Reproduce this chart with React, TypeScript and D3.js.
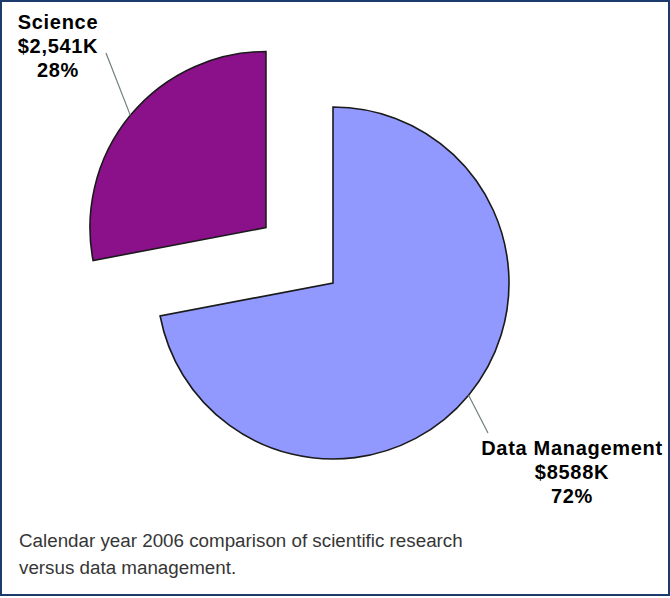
import React from "react";
import * as d3 from "d3";

// Funding split for calendar year 2006
const categories = ["Data Management", "Science"];
const amounts = ["$8588K", "$2,541K"];
const percents = [72, 28];
const colors = ["#9199FF", "#8B118A"];

const W = 670;
const H = 598;
const cx = 333;
const cy = 283;
const radius = 176;
const explode = [0, 87];

// Where each label block sits and where its leader line ends
const labelAnchors = [
  { x: 572, y: 455, lineEnd: [488, 433] },
  { x: 58, y: 29, lineEnd: [106, 53] },
];

export default function App() {
  const pie = d3
    .pie<number>()
    .sort(null)
    .value((d) => d)
    .startAngle(0)
    .endAngle(2 * Math.PI);
  const arcs = pie(percents);
  const arcGen = d3.arc<d3.PieArcDatum<number>>().innerRadius(0).outerRadius(radius);

  return (
    <svg width={W} height={H} style={{ position: "absolute", left: 0, top: 0 }}>
      <rect x={0} y={0} width={W} height={H} fill="#fff" />
      <rect x={1} y={1} width={W - 2} height={H - 4} fill="none" stroke="#1d3a6c" strokeWidth={2} />
      {arcs.map((a, i) => {
        const mid = (a.startAngle + a.endAngle) / 2;
        const dx = Math.sin(mid) * explode[i];
        const dy = -Math.cos(mid) * explode[i];
        const ox = cx + dx;
        const oy = cy + dy;
        const sx = ox + Math.sin(mid) * radius;
        const sy = oy - Math.cos(mid) * radius;
        const la = labelAnchors[i];
        return (
          <g key={categories[i]}>
            <path
              d={arcGen(a) || ""}
              transform={`translate(${ox},${oy})`}
              fill={colors[i]}
              stroke="#1a1a1a"
              strokeWidth={1.6}
              strokeLinejoin="miter"
            />
            <line x1={sx} y1={sy} x2={la.lineEnd[0]} y2={la.lineEnd[1]} stroke="#6f7f7f" strokeWidth={1.2} />
            <text
              x={la.x}
              y={la.y}
              textAnchor="middle"
              fontFamily="'Liberation Sans', Arial, sans-serif"
              fontWeight="bold"
              fontSize={20}
              letterSpacing={0.7}
              fill="#000"
            >
              <tspan x={la.x} dy={0}>{categories[i]}</tspan>
              <tspan x={la.x} dy={24}>{amounts[i]}</tspan>
              <tspan x={la.x} dy={23.5}>{`${percents[i]}%`}</tspan>
            </text>
          </g>
        );
      })}
      <text fontFamily="'Liberation Sans', Arial, sans-serif" fontSize={18.8} fill="#363636">
        <tspan x={19} y={547}>Calendar year 2006 comparison of scientific research</tspan>
        <tspan x={19} y={574}>versus data management.</tspan>
      </text>
    </svg>
  );
}
